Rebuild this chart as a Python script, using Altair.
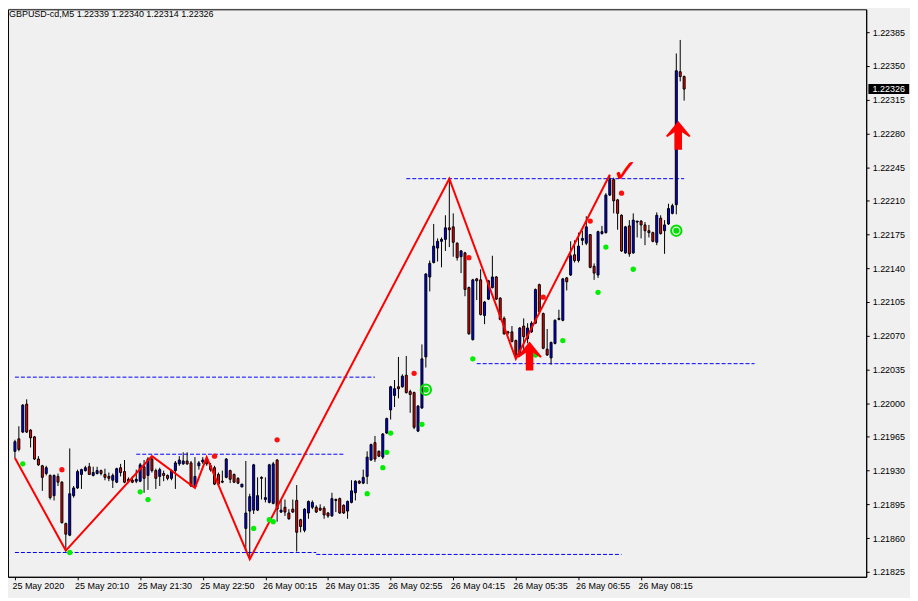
import altair as alt
import pandas as pd

# ---------------- data (GBPUSD M5) ----------------
opens = [1.21950, 1.21963, 1.21970, 1.21999, 1.21972, 1.21965, 1.21942, 1.21935, 1.21927, 1.21925,
 1.21904, 1.21924, 1.21918, 1.21875, 1.21863, 1.21904, 1.21912, 1.21926, 1.21930, 1.21934,
 1.21925, 1.21927, 1.21930, 1.21926, 1.21924, 1.21920, 1.21918, 1.21933, 1.21929, 1.21921,
 1.21920, 1.21919, 1.21919, 1.21934, 1.21925, 1.21942, 1.21930, 1.21924, 1.21927, 1.21925,
 1.21922, 1.21930, 1.21937, 1.21937, 1.21940, 1.21938, 1.21913, 1.21935, 1.21939, 1.21941,
 1.21935, 1.21933, 1.21926, 1.21919, 1.21923, 1.21930, 1.21926, 1.21922, 1.21913, 1.21870,
 1.21888, 1.21889, 1.21889, 1.21923, 1.21900, 1.21897, 1.21896, 1.21941, 1.21887, 1.21892,
 1.21886, 1.21890, 1.21899, 1.21879, 1.21868, 1.21886, 1.21892, 1.21892, 1.21891, 1.21891,
 1.21886, 1.21883, 1.21900, 1.21901, 1.21894, 1.21888, 1.21897, 1.21907, 1.21919, 1.21917,
 1.21924, 1.21941, 1.21959, 1.21950, 1.21944, 1.21969, 1.21993, 1.22008, 1.22017, 1.22017,
 1.22029, 1.22012, 1.22011, 1.21971, 1.21995, 1.22048, 1.22131, 1.22146, 1.22161, 1.22168,
 1.22170, 1.22182, 1.22183, 1.22166, 1.22152, 1.22156, 1.22120, 1.22066, 1.22129, 1.22128,
 1.22091, 1.22108, 1.22120, 1.22131, 1.22109, 1.22088, 1.22074, 1.22074, 1.22065, 1.22050,
 1.22080, 1.22067, 1.22074, 1.22083, 1.22123, 1.22093, 1.22056, 1.22047, 1.22062, 1.22087,
 1.22086, 1.22130, 1.22133, 1.22154, 1.22148, 1.22169, 1.22166, 1.22175, 1.22142, 1.22133,
 1.22176, 1.22177, 1.22216, 1.22232, 1.22211, 1.22195, 1.22156, 1.22184, 1.22156, 1.22188,
 1.22189, 1.22185, 1.22179, 1.22177, 1.22167, 1.22192, 1.22179, 1.22186, 1.22197, 1.22206,
 1.22344, 1.22339]

highs = [1.21962, 1.21976, 1.21999, 1.22004, 1.21973, 1.21966, 1.21945, 1.21936, 1.21935, 1.21926,
 1.21926, 1.21927, 1.21919, 1.21876, 1.21953, 1.21914, 1.21931, 1.21932, 1.21935, 1.21938,
 1.21934, 1.21934, 1.21931, 1.21932, 1.21928, 1.21927, 1.21933, 1.21937, 1.21941, 1.21923,
 1.21924, 1.21931, 1.21938, 1.21941, 1.21944, 1.21945, 1.21932, 1.21933, 1.21930, 1.21926,
 1.21931, 1.21940, 1.21945, 1.21949, 1.21949, 1.21940, 1.21944, 1.21940, 1.21944, 1.21944,
 1.21938, 1.21935, 1.21928, 1.21930, 1.21943, 1.21931, 1.21927, 1.21923, 1.21916, 1.21940,
 1.21906, 1.21937, 1.21923, 1.21924, 1.21923, 1.21937, 1.21939, 1.21942, 1.21900, 1.21900,
 1.21890, 1.21900, 1.21915, 1.21880, 1.21891, 1.21899, 1.21899, 1.21894, 1.21895, 1.21893,
 1.21887, 1.21907, 1.21901, 1.21902, 1.21895, 1.21899, 1.21920, 1.21920, 1.21920, 1.21931,
 1.21950, 1.21958, 1.21966, 1.21951, 1.21969, 1.21985, 1.22018, 1.22024, 1.22048, 1.22030,
 1.22049, 1.22014, 1.22012, 1.21998, 1.22061, 1.22135, 1.22148, 1.22186, 1.22171, 1.22172,
 1.22195, 1.22233, 1.22197, 1.22167, 1.22159, 1.22157, 1.22121, 1.22129, 1.22130, 1.22139,
 1.22106, 1.22128, 1.22153, 1.22132, 1.22110, 1.22090, 1.22075, 1.22080, 1.22066, 1.22079,
 1.22088, 1.22083, 1.22085, 1.22119, 1.22124, 1.22094, 1.22077, 1.22064, 1.22087, 1.22097,
 1.22130, 1.22131, 1.22168, 1.22169, 1.22177, 1.22179, 1.22194, 1.22175, 1.22145, 1.22179,
 1.22184, 1.22218, 1.22237, 1.22234, 1.22212, 1.22196, 1.22184, 1.22190, 1.22197, 1.22189,
 1.22190, 1.22188, 1.22185, 1.22178, 1.22198, 1.22195, 1.22190, 1.22207, 1.22207, 1.22363,
 1.22377, 1.22340]

lows = [1.21943, 1.21950, 1.21969, 1.21969, 1.21954, 1.21941, 1.21935, 1.21909, 1.21925, 1.21900,
 1.21899, 1.21914, 1.21875, 1.21847, 1.21862, 1.21902, 1.21911, 1.21911, 1.21929, 1.21926,
 1.21924, 1.21926, 1.21925, 1.21920, 1.21919, 1.21912, 1.21917, 1.21924, 1.21917, 1.21917,
 1.21917, 1.21917, 1.21918, 1.21907, 1.21910, 1.21928, 1.21911, 1.21914, 1.21919, 1.21920,
 1.21920, 1.21911, 1.21935, 1.21936, 1.21936, 1.21913, 1.21912, 1.21931, 1.21937, 1.21935,
 1.21929, 1.21915, 1.21914, 1.21917, 1.21922, 1.21917, 1.21917, 1.21916, 1.21913, 1.21847,
 1.21838, 1.21885, 1.21888, 1.21900, 1.21897, 1.21896, 1.21895, 1.21877, 1.21886, 1.21883,
 1.21879, 1.21886, 1.21846, 1.21866, 1.21866, 1.21880, 1.21890, 1.21886, 1.21888, 1.21880,
 1.21881, 1.21882, 1.21887, 1.21885, 1.21885, 1.21880, 1.21896, 1.21899, 1.21916, 1.21916,
 1.21916, 1.21940, 1.21939, 1.21944, 1.21942, 1.21968, 1.21983, 1.21996, 1.22005, 1.22016,
 1.22010, 1.21990, 1.21973, 1.21970, 1.21994, 1.22037, 1.22116, 1.22145, 1.22147, 1.22141,
 1.22158, 1.22162, 1.22152, 1.22148, 1.22135, 1.22111, 1.22071, 1.22065, 1.22107, 1.22091,
 1.22082, 1.22107, 1.22119, 1.22107, 1.22086, 1.22071, 1.22071, 1.22063, 1.22046, 1.22049,
 1.22052, 1.22062, 1.22073, 1.22082, 1.22093, 1.22056, 1.22049, 1.22040, 1.22061, 1.22086,
 1.22085, 1.22117, 1.22132, 1.22146, 1.22146, 1.22164, 1.22164, 1.22140, 1.22128, 1.22130,
 1.22175, 1.22176, 1.22215, 1.22197, 1.22180, 1.22157, 1.22155, 1.22152, 1.22155, 1.22172,
 1.22171, 1.22164, 1.22172, 1.22167, 1.22164, 1.22175, 1.22155, 1.22185, 1.22196, 1.22196,
 1.22334, 1.22314]

closes = [1.21960, 1.21952, 1.21998, 1.21970, 1.21964, 1.21942, 1.21936, 1.21923, 1.21933, 1.21902,
 1.21925, 1.21918, 1.21876, 1.21864, 1.21906, 1.21912, 1.21929, 1.21931, 1.21933, 1.21926,
 1.21928, 1.21930, 1.21927, 1.21923, 1.21922, 1.21925, 1.21932, 1.21928, 1.21918, 1.21919,
 1.21918, 1.21921, 1.21936, 1.21922, 1.21942, 1.21930, 1.21922, 1.21931, 1.21925, 1.21922,
 1.21930, 1.21938, 1.21941, 1.21940, 1.21937, 1.21914, 1.21924, 1.21938, 1.21941, 1.21937,
 1.21931, 1.21916, 1.21916, 1.21918, 1.21942, 1.21921, 1.21918, 1.21917, 1.21916, 1.21886,
 1.21903, 1.21936, 1.21904, 1.21922, 1.21902, 1.21936, 1.21937, 1.21890, 1.21889, 1.21887,
 1.21880, 1.21887, 1.21866, 1.21872, 1.21890, 1.21898, 1.21897, 1.21887, 1.21889, 1.21884,
 1.21883, 1.21901, 1.21899, 1.21886, 1.21886, 1.21898, 1.21909, 1.21919, 1.21917, 1.21923,
 1.21944, 1.21957, 1.21942, 1.21945, 1.21968, 1.21984, 1.22017, 1.22015, 1.22015, 1.22028,
 1.22011, 1.22009, 1.21975, 1.21997, 1.22046, 1.22134, 1.22145, 1.22163, 1.22168, 1.22170,
 1.22182, 1.22180, 1.22167, 1.22151, 1.22158, 1.22118, 1.22072, 1.22128, 1.22127, 1.22092,
 1.22105, 1.22127, 1.22131, 1.22108, 1.22087, 1.22072, 1.22073, 1.22064, 1.22050, 1.22078,
 1.22069, 1.22078, 1.22083, 1.22118, 1.22095, 1.22057, 1.22050, 1.22063, 1.22086, 1.22088,
 1.22129, 1.22126, 1.22153, 1.22148, 1.22163, 1.22171, 1.22183, 1.22141, 1.22135, 1.22178,
 1.22178, 1.22216, 1.22232, 1.22210, 1.22197, 1.22158, 1.22183, 1.22155, 1.22190, 1.22189,
 1.22185, 1.22179, 1.22177, 1.22168, 1.22195, 1.22176, 1.22185, 1.22202, 1.22205, 1.22345,
 1.22339, 1.22326]

# zigzag indicator (bar index, price)
zz_bars = [0, 13, 35, 46, 49, 60, 111, 128, 152]
zz_prices = [1.21943, 1.21847, 1.21945, 1.21912, 1.21944, 1.21838, 1.22233, 1.22046, 1.22237]

# dashed support / resistance levels
lvl_start = [0, 31, 0, 77, 118, 100]
lvl_end = [92, 84, 77, 155, 189, 171]
lvl_price = [1.22027, 1.21947, 1.21845, 1.21843, 1.22041, 1.22233]

# indicator dots
green_bars = [2, 14, 32, 34, 61, 65, 66, 90, 94, 95, 96, 104, 117, 133, 140, 149, 151, 158]
green_prices = [1.21937, 1.21845, 1.21908, 1.21900, 1.21870, 1.21879, 1.21877, 1.21906, 1.21933,
                1.21949, 1.21969, 1.21978, 1.22046, 1.22050, 1.22065, 1.22115, 1.22162, 1.22139]
red_bars = [12, 51, 67, 102, 116, 135, 147, 155]
red_prices = [1.21931, 1.21945, 1.21962, 1.22031, 1.22151, 1.22110, 1.22189, 1.22218]

target_bars = [105, 169]
target_prices = [1.22014, 1.22179]
arrow_bars = [131.5, 169.5]
arrow_prices = [1.22049, 1.22278]
check_bars = [156]
check_prices = [1.22240]

ytick_values = [1.21825, 1.21860, 1.21895, 1.21930, 1.21965, 1.22000, 1.22035, 1.22070, 1.22105,
                1.22140, 1.22175, 1.22210, 1.22245, 1.22280, 1.22315, 1.22350, 1.22385]
xtick_bars = [0, 16, 32, 48, 64, 80, 96, 112, 128, 144, 160]
xtick_labels = ["25 May 2020", "25 May 20:10", "25 May 21:30", "25 May 22:50", "26 May 00:15",
                "26 May 01:35", "26 May 02:55", "26 May 04:15", "26 May 05:35", "26 May 06:55",
                "26 May 08:15"]
symbol = "GBPUSD-cd,M5"

# ---------------- chart ----------------
FONT = "Liberation Sans"
candles = pd.DataFrame({"bar": list(range(len(opens))), "open": opens, "high": highs,
                        "low": lows, "close": closes})

x_scale = alt.Scale(domain=[-0.5, 216.25], nice=False, zero=False)
y_scale = alt.Scale(domain=[1.218198, 1.224088], nice=False, zero=False)

label_js = "[" + ",".join("'%s'" % s for s in xtick_labels) + "]"
x_axis = alt.Axis(values=xtick_bars, labelExpr=f"{label_js}[indexof({xtick_bars}, datum.value)]",
                  orient="bottom", tickSize=3, labelAlign="left", labelPadding=2, labelFontSize=9,
                  labelOffset=-3, labelFont=FONT, labelColor="black", domainColor="black",
                  tickColor="black", grid=False, labelOverlap=False, labelFlush=False, title=None)
y_axis = alt.Axis(values=ytick_values, format=".5f", orient="right", tickSize=3, labelPadding=3,
                  labelFontSize=9, labelFont=FONT, labelColor="black", domainColor="black",
                  tickColor="black", grid=False, labelOverlap=False, labelFlush=False, title=None)


def X(f):
    return alt.X(f, type="quantitative", scale=x_scale, axis=x_axis, title=None)


def Y(f):
    return alt.Y(f, type="quantitative", scale=y_scale, axis=y_axis, title=None)


levels = pd.DataFrame({"start": lvl_start, "end": lvl_end, "price": lvl_price})
lvl_layer = alt.Chart(levels).mark_rule(color="#0000ff", strokeWidth=1, strokeDash=[4, 2]).encode(
    x=X("start"), x2="end", y=Y("price"))

wicks = alt.Chart(candles).mark_rule(color="black", strokeWidth=1).encode(
    x=X("bar"), y=Y("low"), y2="high")

bodies = alt.Chart(candles).mark_bar(width=2, stroke="black", strokeWidth=1).encode(
    x=X("bar"), y=Y("open"), y2="close",
    fill=alt.condition("datum.close > datum.open", alt.value("#0000ff"), alt.value("#ff0000")))

zz = pd.DataFrame({"bar": zz_bars, "price": zz_prices})
zz_layer = alt.Chart(zz).mark_line(color="#ff0000", strokeWidth=2).encode(
    x=X("bar"), y=Y("price"), order="bar:Q")

greens = pd.DataFrame({"bar": green_bars, "price": green_prices})
green_layer = alt.Chart(greens).mark_circle(size=28, color="#00ee00", opacity=1).encode(
    x=X("bar"), y=Y("price"))
reds = pd.DataFrame({"bar": red_bars, "price": red_prices})
red_layer = alt.Chart(reds).mark_circle(size=28, color="#ff1010", opacity=1).encode(
    x=X("bar"), y=Y("price"))

targets = pd.DataFrame({"bar": target_bars, "price": target_prices})
ring_layer = alt.Chart(targets).mark_point(shape="circle", size=110, filled=False, color="#00e000",
                                           strokeWidth=2, opacity=1).encode(x=X("bar"), y=Y("price"))
core_layer = alt.Chart(targets).mark_circle(size=36, color="#00e000", opacity=1).encode(
    x=X("bar"), y=Y("price"))

arrow_path = "M0,-1 L0.85,0.05 L0.75,0.12 L0.26,-0.22 L0.26,1 L-0.26,1 L-0.26,-0.22 L-0.75,0.12 L-0.85,0.05 Z"
arrows = pd.DataFrame({"bar": arrow_bars, "price": arrow_prices})
arrow_layer = alt.Chart(arrows).mark_point(shape=arrow_path, size=841, filled=True, color="#ff0000",
                                           opacity=1, strokeWidth=0).encode(x=X("bar"), y=Y("price"))

checks = pd.DataFrame({"bar": check_bars, "price": check_prices})
check_layer = alt.Chart(checks).mark_text(text="✓", fontSize=32, color="#ff0000",
                                          font="DejaVu Sans").encode(x=X("bar"), y=Y("price"))

title_txt = f"{symbol}  {opens[-1]:.5f} {highs[-1]:.5f} {lows[-1]:.5f} {closes[-1]:.5f}"
title_df = pd.DataFrame({"t": [title_txt]})
title_layer = alt.Chart(title_df).mark_text(align="left", baseline="middle", fontSize=9, font=FONT,
                                            color="black").encode(
    x=alt.value(1), y=alt.value(5), text="t:N")

tag = pd.DataFrame({"price": [closes[-1]], "t": [f"{closes[-1]:.5f}"]})
tag_box = alt.Chart(tag).mark_point(shape="M-1,-0.244 L1,-0.244 L1,0.244 L-1,0.244 Z", size=1681,
                                    filled=True, color="black", opacity=1, strokeWidth=0).encode(
    x=alt.value(884.7), y=Y("price"))
tag_txt = alt.Chart(tag).mark_text(color="white", fontSize=9, font=FONT, align="center",
                                   baseline="middle").encode(x=alt.value(884.7), y=Y("price"), text="t:N")

chart = alt.layer(
    lvl_layer, wicks, bodies, zz_layer, green_layer, red_layer, ring_layer, core_layer,
    arrow_layer, check_layer, title_layer, tag_box, tag_txt
).properties(
    width=862, height=570,
    padding={"left": 0, "top": 0, "right": 44, "bottom": 20},
    autosize=alt.AutoSizeParams(type="none"),
    background="#f0f0f0",
).configure_view(stroke="black", strokeWidth=1)

chart.save("out.html", embed_options={"renderer": "svg", "actions": False})
